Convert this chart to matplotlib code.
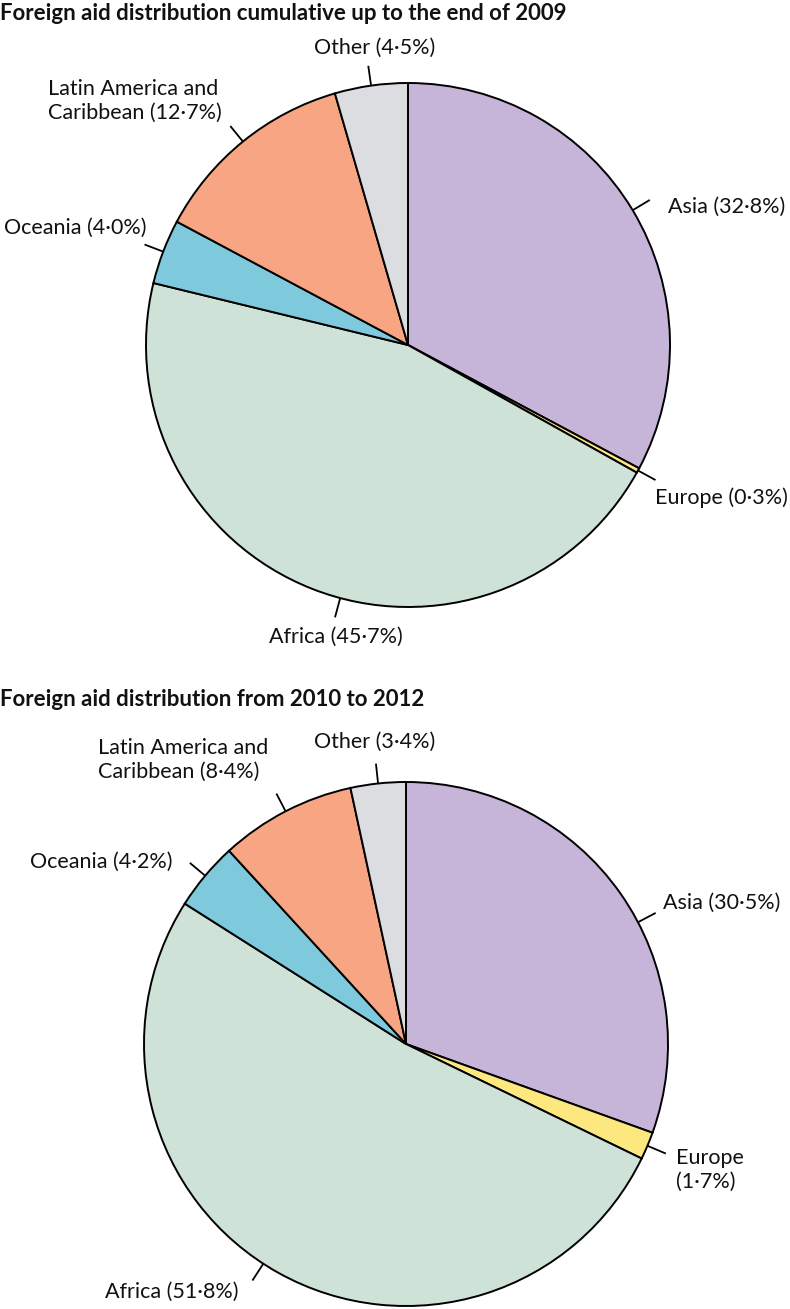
import numpy as np
import matplotlib
matplotlib.use("Agg")
import matplotlib.pyplot as plt

plt.rcParams['font.family'] = ['Lato', 'DejaVu Sans']

# ---- data ----
regions = ["Asia", "Europe", "Africa", "Oceania", "Latin America and Caribbean", "Other"]
share_to_2009 = [32.8, 0.3, 45.7, 4.0, 12.7, 4.5]
share_2010_2012 = [30.5, 1.7, 51.8, 4.2, 8.4, 3.4]
titles = ["Foreign aid distribution cumulative up to the end of 2009",
          "Foreign aid distribution from 2010 to 2012"]
colors = ["#c6b4d9", "#fde77f", "#cfe2d8", "#7fc9dd", "#f7a583", "#dcdde1"]

W, H = 790, 1309
fig = plt.figure(figsize=(W / 100, H / 100), dpi=100)
ax = fig.add_axes([0, 0, 1, 1])
ax.set_xlim(0, W)
ax.set_ylim(0, H)
ax.set_aspect('equal')
ax.axis('off')

def pct(v):
    return f"{v:.1f}".replace(".", "\u00b7") + "%"

def label_text(name, v, pie_idx):
    if name.startswith("Latin"):
        return "Latin America and\nCaribbean (" + pct(v) + ")"
    if name == "Europe" and pie_idx == 1:
        return "Europe\n(" + pct(v) + ")"
    return f"{name} ({pct(v)})"

# layout: pie centres (pixels from top), radius, title y,
# text positions (x, y_center, ha), leader angle overrides (deg) or None
pies = [
    dict(cx=408, cy=345, r=262, ty=3,
         text=[(668, 207, 'left'), (655, 498, 'left'),
               (336, 637, 'center'), (147, 228, 'right'),
               (48, 101, 'left'), (375, 48, 'center')],
         lead=[None, None, -105, None, None, None]),
    dict(cx=406, cy=1044, r=262, ty=689,
         text=[(663, 903, 'left'), (676, 1170, 'left'),
               (172, 1292, 'center'), (173, 862, 'right'),
               (98, 760, 'left'), (375, 742, 'center')],
         lead=[27.7, None, -123, None, None, None]),
]

for k, (vals, title, lay) in enumerate(zip([share_to_2009, share_2010_2012], titles, pies)):
    cx, cy_data, r = lay['cx'], H - lay['cy'], lay['r']
    wedges, _ = ax.pie(vals, colors=colors, startangle=90, counterclock=False,
                       center=(cx, cy_data), radius=r, normalize=True,
                       wedgeprops=dict(edgecolor='black', linewidth=1.4))
    ax.set_xlim(0, W)
    ax.set_ylim(0, H)
    ax.text(0, H - lay['ty'], title, fontsize=16, fontweight='bold', ha='left', va='top',
            color='#111111')
    for i, (w, name, v) in enumerate(zip(wedges, regions, vals)):
        ang = lay['lead'][i]
        if ang is None:
            ang = (w.theta1 + w.theta2) / 2
        mid = np.deg2rad(ang)
        x0, y0 = cx + r * np.cos(mid), cy_data + r * np.sin(mid)
        x1, y1 = cx + (r + 20) * np.cos(mid), cy_data + (r + 20) * np.sin(mid)
        ax.plot([x0, x1], [y0, y1], color='black', lw=1.3, solid_capstyle='butt')
        tx, ty, ha = lay['text'][i]
        ax.text(tx, H - ty, label_text(name, v, k), fontsize=15.5, ha=ha, va='center',
                linespacing=1.2, color='#111111')

fig.savefig("out.png", dpi=100)
